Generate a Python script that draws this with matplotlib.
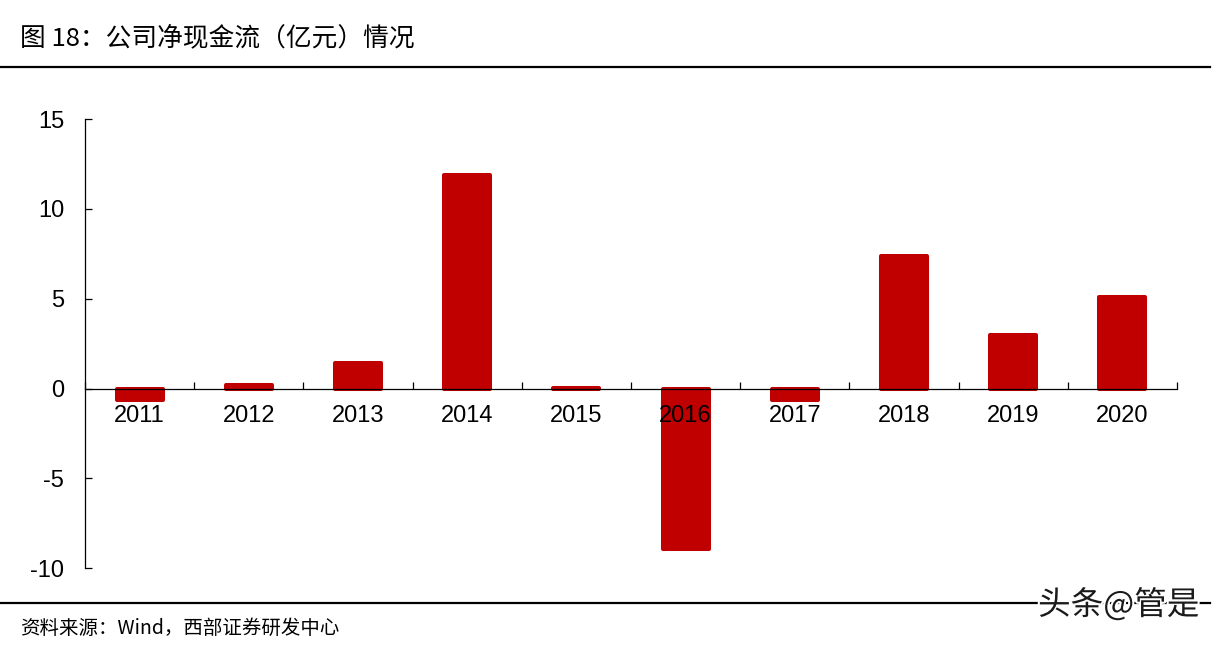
import matplotlib
matplotlib.use("Agg")
import matplotlib.pyplot as plt
import matplotlib.patheffects as pe
from matplotlib.lines import Line2D
import numpy as np

years = ["2011", "2012", "2013", "2014", "2015", "2016", "2017", "2018", "2019", "2020"]
net_cash = [-0.65, 0.2, 1.4, 11.9, 0.05, -8.95, -0.65, 7.4, 3.0, 5.1]
y_ticks = [-10, -5, 0, 5, 10, 15]

title = "图 18：公司净现金流（亿元）情况"
source = "资料来源：Wind，西部证券研发中心"
watermark = "头条@管是"

W, H = 1222, 645
fig = plt.figure(figsize=(W / 100, H / 100), dpi=100)
cjk = ["Noto Sans CJK SC", "DejaVu Sans"]

ax = fig.add_axes([85 / W, (H - 568.3) / H, (1177 - 85) / W, (568.3 - 119) / H])
x = np.arange(len(years))
ax.bar(x, net_cash, width=0.42, color="#C00000", edgecolor="#C00000",
       linewidth=2.9, joinstyle="round", zorder=1)

ax.set_xlim(-0.5, len(years) - 0.5)
ax.set_ylim(-10, 15)
ax.set_xticks(np.arange(len(years) + 1) - 0.5, minor=True)
ax.set_xticks(x)
ax.set_yticks(y_ticks)

for s in ["top", "right"]:
    ax.spines[s].set_visible(False)
ax.spines["bottom"].set_position(("data", 0))
ax.spines["bottom"].set_linewidth(0.9)
ax.spines["left"].set_linewidth(0.9)
ax.tick_params(axis="x", which="major", length=0, pad=12)
ax.tick_params(axis="x", which="minor", direction="in", length=5, width=0.9)
ax.tick_params(axis="y", direction="in", length=5, width=0.9, pad=15)

ax.set_xticklabels(years, family="Liberation Sans", fontsize=17)
ax.set_yticklabels([str(v) for v in y_ticks], family="Liberation Sans", fontsize=17)

# header / footer rules
fig.add_artist(Line2D([0, 1210 / W], [1 - 66.5 / H] * 2, color="black", lw=1.6))
fig.add_artist(Line2D([0, 1210 / W], [1 - 603 / H] * 2, color="black", lw=1.6))

fig.text(20 / W, 1 - 38 / H, title, family=cjk, fontsize=18.5, va="center", ha="left")
fig.text(20 / W, 1 - 628 / H, source, family=cjk, fontsize=14, va="center", ha="left")
fig.text(1038 / W, 1 - 605 / H, watermark, family=cjk, fontsize=23.5, va="center",
         ha="left", color="#1a1a1a",
         path_effects=[pe.withStroke(linewidth=3, foreground="white")])

fig.savefig("out.png", dpi=100)
